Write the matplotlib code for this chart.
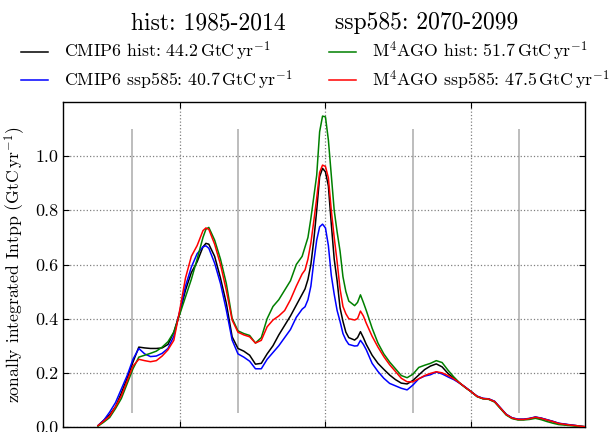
import matplotlib
matplotlib.use('Agg')
import matplotlib.pyplot as plt

# latitude (deg N) and zonally integrated intpp (GtC/yr)
lat = [-78, -76, -74, -72, -70, -68, -66, -64, -62, -60, -58, -56, -54, -52, -50,
       -48, -46, -44, -42, -41, -40, -38, -36, -34, -32, -30, -28, -26, -24, -22,
       -20, -18, -16, -14, -12, -10, -8, -7, -6, -5, -4, -3, -2, -1, 0,
       1, 2, 3, 4, 5, 6, 7, 8, 10, 11, 12, 13, 14,
       16, 18, 20, 22, 24, 26, 28, 30, 32, 34, 36, 38, 40, 42, 44, 46, 48,
       50, 52, 54, 56, 58, 60, 62, 64, 66, 68, 70, 72, 74, 76, 78, 80, 82, 84, 86, 88, 89]

cmip6_hist = [0.005, 0.025, 0.045, 0.075, 0.125, 0.18, 0.24, 0.295, 0.292, 0.29, 0.29, 0.292, 0.305, 0.35, 0.42,
              0.505, 0.57, 0.61, 0.665, 0.678, 0.675, 0.63, 0.55, 0.457, 0.333, 0.29, 0.28, 0.265, 0.232, 0.235,
              0.27, 0.30, 0.34, 0.375, 0.41, 0.45, 0.49, 0.51, 0.545, 0.60, 0.69, 0.80, 0.924, 0.955, 0.942,
              0.89, 0.75, 0.62, 0.54, 0.44, 0.39, 0.35, 0.33, 0.321, 0.33, 0.352, 0.33, 0.305,
              0.265, 0.235, 0.213, 0.192, 0.175, 0.162, 0.159, 0.172, 0.192, 0.212, 0.225, 0.233, 0.222, 0.198, 0.18, 0.162, 0.146,
              0.13, 0.113, 0.105, 0.103, 0.094, 0.07, 0.046, 0.033, 0.028, 0.028, 0.031, 0.036, 0.032, 0.026, 0.02, 0.013, 0.01, 0.007, 0.005, 0.002, 0.001]

cmip6_ssp = [0.005, 0.025, 0.055, 0.09, 0.14, 0.19, 0.25, 0.29, 0.27, 0.26, 0.262, 0.272, 0.29, 0.335, 0.425,
             0.52, 0.59, 0.64, 0.665, 0.669, 0.66, 0.605, 0.53, 0.432, 0.321, 0.27, 0.258, 0.243, 0.215, 0.215,
             0.25, 0.275, 0.30, 0.33, 0.36, 0.405, 0.435, 0.444, 0.47, 0.52, 0.61, 0.69, 0.739, 0.749, 0.735,
             0.67, 0.56, 0.49, 0.43, 0.39, 0.345, 0.321, 0.305, 0.299, 0.30, 0.32, 0.305, 0.285,
             0.235, 0.205, 0.18, 0.161, 0.152, 0.143, 0.137, 0.155, 0.178, 0.188, 0.193, 0.203, 0.196, 0.185, 0.175, 0.162, 0.147,
             0.13, 0.114, 0.106, 0.104, 0.095, 0.071, 0.047, 0.034, 0.029, 0.029, 0.032, 0.037, 0.033, 0.027, 0.021, 0.014, 0.011, 0.008, 0.005, 0.002, 0.001]

m4ago_hist = [0.003, 0.018, 0.035, 0.068, 0.105, 0.16, 0.215, 0.258, 0.265, 0.272, 0.28, 0.295, 0.315, 0.35, 0.415,
              0.48, 0.545, 0.62, 0.70, 0.73, 0.737, 0.69, 0.62, 0.53, 0.401, 0.355, 0.345, 0.338, 0.31, 0.33,
              0.40, 0.445, 0.47, 0.505, 0.54, 0.60, 0.63, 0.665, 0.70, 0.77, 0.85, 0.93, 1.09, 1.148, 1.145,
              1.06, 0.93, 0.80, 0.72, 0.65, 0.555, 0.50, 0.465, 0.448, 0.46, 0.488, 0.46, 0.43,
              0.365, 0.31, 0.27, 0.24, 0.215, 0.19, 0.182, 0.195, 0.22, 0.228, 0.235, 0.245, 0.238, 0.21, 0.185, 0.163, 0.145,
              0.13, 0.112, 0.104, 0.102, 0.092, 0.068, 0.044, 0.031, 0.026, 0.026, 0.028, 0.032, 0.027, 0.02, 0.014, 0.009, 0.007, 0.005, 0.003, 0.002, 0.001]

m4ago_ssp = [0.005, 0.022, 0.04, 0.075, 0.115, 0.17, 0.225, 0.25, 0.245, 0.241, 0.245, 0.262, 0.285, 0.32, 0.43,
             0.55, 0.63, 0.67, 0.725, 0.735, 0.73, 0.675, 0.60, 0.505, 0.395, 0.35, 0.34, 0.333, 0.31, 0.32,
             0.37, 0.395, 0.41, 0.43, 0.47, 0.52, 0.565, 0.58, 0.62, 0.68, 0.76, 0.845, 0.94, 0.967, 0.962,
             0.92, 0.80, 0.70, 0.61, 0.51, 0.445, 0.418, 0.40, 0.395, 0.40, 0.428, 0.41, 0.383,
             0.335, 0.295, 0.26, 0.23, 0.205, 0.18, 0.167, 0.167, 0.178, 0.19, 0.198, 0.204, 0.2, 0.19, 0.178, 0.163, 0.146,
             0.13, 0.113, 0.105, 0.103, 0.094, 0.07, 0.046, 0.033, 0.028, 0.028, 0.031, 0.036, 0.032, 0.026, 0.02, 0.013, 0.01, 0.007, 0.005, 0.002, 0.001]

labels = [r'CMIP6 hist: 44.2$\,\mathrm{GtC}\,\mathrm{yr}^{-1}$',
          r'CMIP6 ssp585: 40.7$\,\mathrm{GtC}\,\mathrm{yr}^{-1}$',
          r'M$^4$AGO hist: 51.7$\,\mathrm{GtC}\,\mathrm{yr}^{-1}$',
          r'M$^4$AGO ssp585: 47.5$\,\mathrm{GtC}\,\mathrm{yr}^{-1}$']
colors = ['k', 'b', 'g', 'r']

region_lats = [-66.5, -30, 30, 66.5]

plt.rcParams['font.family'] = 'serif'
plt.rcParams['font.serif'] = ['cmr10']
plt.rcParams['mathtext.fontset'] = 'cm'
plt.rcParams['axes.formatter.use_mathtext'] = True
plt.rcParams['xtick.direction'] = 'in'
plt.rcParams['ytick.direction'] = 'in'
plt.rcParams['xtick.top'] = True
plt.rcParams['ytick.right'] = True
plt.rcParams['xtick.major.size'] = 4.5
plt.rcParams['ytick.major.size'] = 4.5

fig = plt.figure(figsize=(6.11, 4.32), dpi=100)
ax = fig.add_axes([63 / 611, 1 - 427 / 432, 522 / 611, 325 / 432])

ax.vlines(region_lats, 0.05, 1.1, color='0.72', lw=1.3, zorder=1)

for series, c, lab in zip([cmip6_hist, cmip6_ssp, m4ago_hist, m4ago_ssp], colors, labels):
    ax.plot(lat, series, color=c, lw=1.1, label=lab, zorder=3)

ax.set_xlim(-90, 89)
ax.set_ylim(0, 1.2)
ax.set_xticks([-50, 0, 50])
ax.set_yticks([0.0, 0.2, 0.4, 0.6, 0.8, 1.0])
ax.set_yticklabels(['0.0', '0.2', '0.4', '0.6', '0.8', '1.0'])
ax.tick_params(labelsize=13)
# x tick labels fall below the cropped figure edge in the original
ax.tick_params(axis='x', labelbottom=False)
ax.grid(True, ls=':', color='0.5', lw=0.9)
for s in ax.spines.values():
    s.set_linewidth(1.0)

ax.set_ylabel(r'zonally integrated Intpp (GtC$\,$yr$^{-1}$)', fontsize=12.7)
ax.yaxis.set_label_coords(-0.068, 0.5)

ax.legend(loc='upper left', bbox_to_anchor=(21 / 611, 1 - 40 / 432),
          bbox_transform=fig.transFigure, ncol=2, frameon=False, fontsize=12.8,
          handlelength=1.5, handletextpad=0.9, columnspacing=2.1,
          borderpad=0, borderaxespad=0, labelspacing=0.3)

fig.text(131 / 611, 1 - 29 / 432, 'hist: 1985-2014', fontsize=17, va='baseline')
fig.text(335 / 611, 1 - 29 / 432, 'ssp585: 2070-2099', fontsize=17, va='baseline')

fig.savefig('out.png', dpi=100)
